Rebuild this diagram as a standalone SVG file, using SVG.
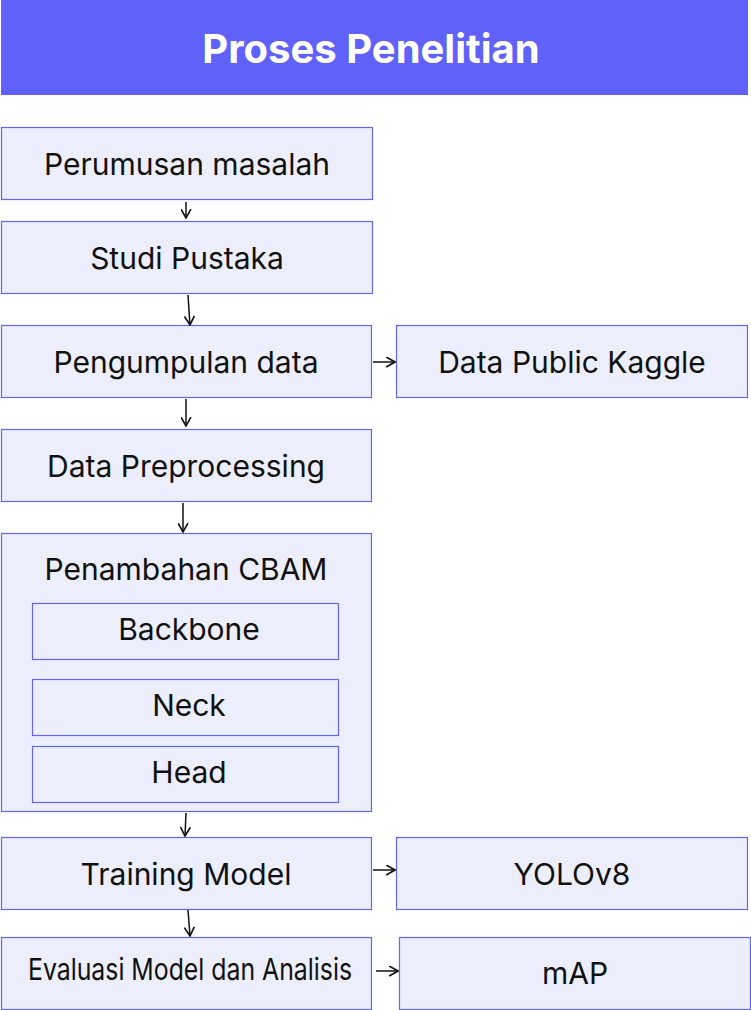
<svg xmlns="http://www.w3.org/2000/svg" width="751" height="1010" viewBox="0 0 751 1010">
<defs>
<style>
.box{fill:#eceefb;stroke:#6466f1;stroke-width:1.2}
.t{font-family:Inter,"Liberation Sans",sans-serif;font-size:30px;fill:#111;text-anchor:middle}
.c{stroke:#111;stroke-width:1.5;fill:none;marker-end:url(#a)}
</style>
<marker id="a" viewBox="0 0 10 10" refX="9" refY="5" markerWidth="11" markerHeight="11" markerUnits="userSpaceOnUse" orient="auto">
<path d="M1,0.5 L9,5 L1,9.5" fill="none" stroke="#111" stroke-width="1.5"/>
</marker>
</defs>
<rect width="751" height="1010" fill="#fff"/>
<g id="title">
<rect x="1" y="0" width="747" height="95" fill="#5f61f8"/>
<text x="371" y="63" font-family="Inter,'Liberation Sans',sans-serif" font-size="40" font-weight="700" fill="#fff" text-anchor="middle">Proses Penelitian</text>
</g>
<g id="n1"><rect class="box" x="1.5" y="127.5" width="371" height="72"/><text class="t" x="187" y="175">Perumusan masalah</text></g>
<g id="n2"><rect class="box" x="1.5" y="221.5" width="371" height="72"/><text class="t" x="187" y="269">Studi Pustaka</text></g>
<g id="n3"><rect class="box" x="1.5" y="325.5" width="370" height="72"/><text class="t" x="186" y="373">Pengumpulan data</text></g>
<g id="n4"><rect class="box" x="396.5" y="325.5" width="351" height="72"/><text class="t" x="572" y="373">Data Public Kaggle</text></g>
<g id="n5"><rect class="box" x="1.5" y="429.5" width="370" height="72"/><text class="t" x="186" y="477">Data Preprocessing</text></g>
<g id="n6">
<rect class="box" x="1.5" y="533.5" width="370" height="278"/>
<text class="t" x="186" y="580">Penambahan CBAM</text>
<g id="n6a"><rect class="box" x="32.5" y="603.5" width="306" height="56"/><text class="t" x="189" y="640">Backbone</text></g>
<g id="n6b"><rect class="box" x="32.5" y="679.5" width="306" height="56"/><text class="t" x="189" y="716">Neck</text></g>
<g id="n6c"><rect class="box" x="32.5" y="746.5" width="306" height="56"/><text class="t" x="189" y="783">Head</text></g>
</g>
<g id="n7"><rect class="box" x="1.5" y="837.5" width="370" height="72"/><text class="t" x="186" y="885">Training Model</text></g>
<g id="n8"><rect class="box" x="396.5" y="837.5" width="351" height="72"/><text class="t" x="572" y="885">YOLOv8</text></g>
<g id="n9"><rect class="box" x="1.5" y="937.5" width="370" height="72"/><text class="t" x="190" y="980" font-size="23" textLength="324" lengthAdjust="spacingAndGlyphs">Evaluasi Model dan Analisis</text></g>
<g id="n10"><rect class="box" x="399.5" y="937.5" width="351" height="72"/><text class="t" x="575" y="984">mAP</text></g>
<g id="connectors">
<path class="c" d="M186,202 L186,218"/>
<path class="c" d="M188,295 L190,325"/>
<path class="c" d="M186,399 L186,426"/>
<path class="c" d="M183,503 L183,532"/>
<path class="c" d="M186,813 L185,836"/>
<path class="c" d="M188,910 L190,936"/>
<path class="c" d="M373,362 L395,362"/>
<path class="c" d="M373,870 L395,870"/>
<path class="c" d="M376,971 L398,971"/>
</g>
</svg>
